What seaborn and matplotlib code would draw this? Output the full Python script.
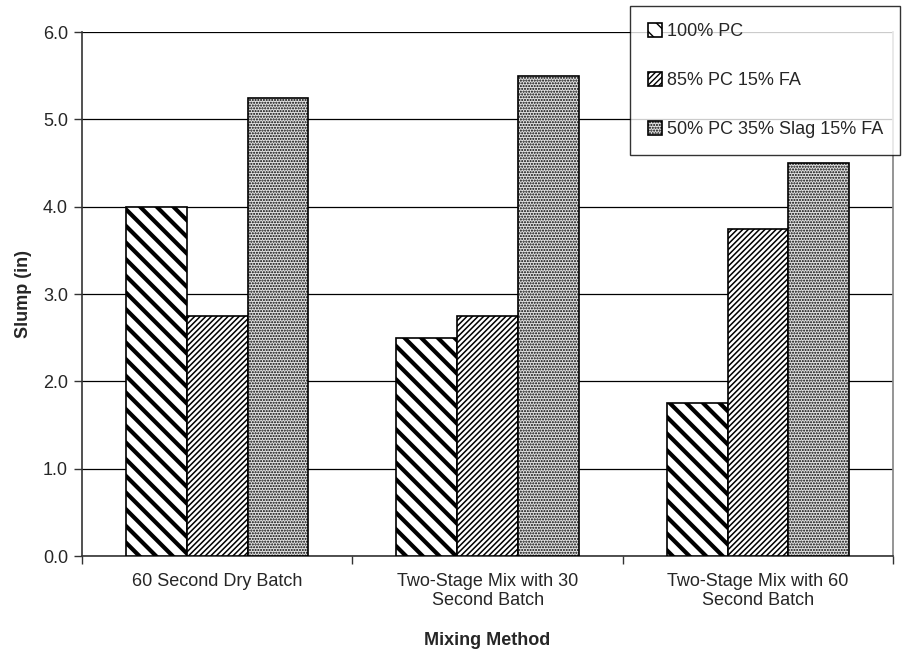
import pandas as pd
import numpy as np
import seaborn as sns
import matplotlib.pyplot as plt

# values
methods = ["60 Second Dry Batch",
           "Two-Stage Mix with 30\nSecond Batch",
           "Two-Stage Mix with 60\nSecond Batch"]
mixes = ["100% PC", "85% PC 15% FA", "50% PC 35% Slag 15% FA"]
pc100 = [4.0, 2.5, 1.75]
pc85_fa15 = [2.75, 2.75, 3.75]
pc50_slag35_fa15 = [5.25, 5.5, 4.5]

df = pd.DataFrame({
    "method": methods * 3,
    "mix": [mixes[0]] * 3 + [mixes[1]] * 3 + [mixes[2]] * 3,
    "slump": pc100 + pc85_fa15 + pc50_slag35_fa15,
})

sns.set_theme(style="white")
plt.rcParams['font.family'] = ['Liberation Sans', 'DejaVu Sans']
fs = 13

fig = plt.figure(figsize=(9.04, 6.56), dpi=100)
ax = fig.add_axes([0.0907, 0.1524, 0.8973, 0.7986])

ax = sns.barplot(data=df, x="method", y="slump", hue="mix", hue_order=mixes,
                 order=methods, palette=["white", "white", "#e2e2e2"],
                 width=0.675, gap=0, edgecolor="black", linewidth=1.2,
                 saturation=1, ax=ax, legend=True, errorbar=None)

hatches = ["\\\\", "//////", "......"]
hatch_lw = [3.0, 1.1, 1.0]
for cont, h, lw in zip(ax.containers, hatches, hatch_lw):
    for bar in cont:
        bar.set_hatch(h)
        if hasattr(bar, "set_hatch_linewidth"):
            bar.set_hatch_linewidth(lw)
        bar.set_zorder(3)

ax.set_ylim(0, 6.0)
ax.set_xlim(-0.5, 2.5)
ax.set_yticks(np.arange(0, 6.01, 1.0))
ax.set_yticklabels([f"{v:.1f}" for v in np.arange(0, 6.01, 1.0)], fontsize=fs)
ax.yaxis.grid(True, color="black", linewidth=0.9)
ax.set_axisbelow(True)

ax.set_xticks([0, 1, 2])
ax.set_xticklabels(methods, fontsize=fs)
ax.set_xticks([-0.5, 0.5, 1.5, 2.5], minor=True)
ax.tick_params(axis="x", which="major", length=0, pad=12)
ax.tick_params(axis="x", which="minor", length=6, width=1, color="#333333",
               direction="out", bottom=True)
ax.tick_params(axis="y", length=6, width=1, color="#333333", direction="out",
               left=True, pad=4)

for side in ["left", "bottom"]:
    ax.spines[side].set_color("#333333")
    ax.spines[side].set_linewidth(1.2)
ax.spines["right"].set_color("#888888")
ax.spines["top"].set_visible(False)

ax.set_xlabel("Mixing Method", fontsize=fs, fontweight="bold", labelpad=16)
ax.set_ylabel("Slump (in)", fontsize=fs, fontweight="bold", labelpad=8)

ax.legend_.remove()
leg = fig.legend([c[0] for c in ax.containers], mixes, loc="upper right",
                 bbox_to_anchor=(900 / 904, 1 - 6 / 656), fontsize=fs,
                 frameon=True, fancybox=False, edgecolor="black",
                 handlelength=0.8, handleheight=0.8, handletextpad=0.25,
                 labelspacing=1.75, borderpad=0.95, borderaxespad=0)
leg.get_frame().set_linewidth(1.0)
leg.set_zorder(10)

fig.savefig("out.png", dpi=100)
